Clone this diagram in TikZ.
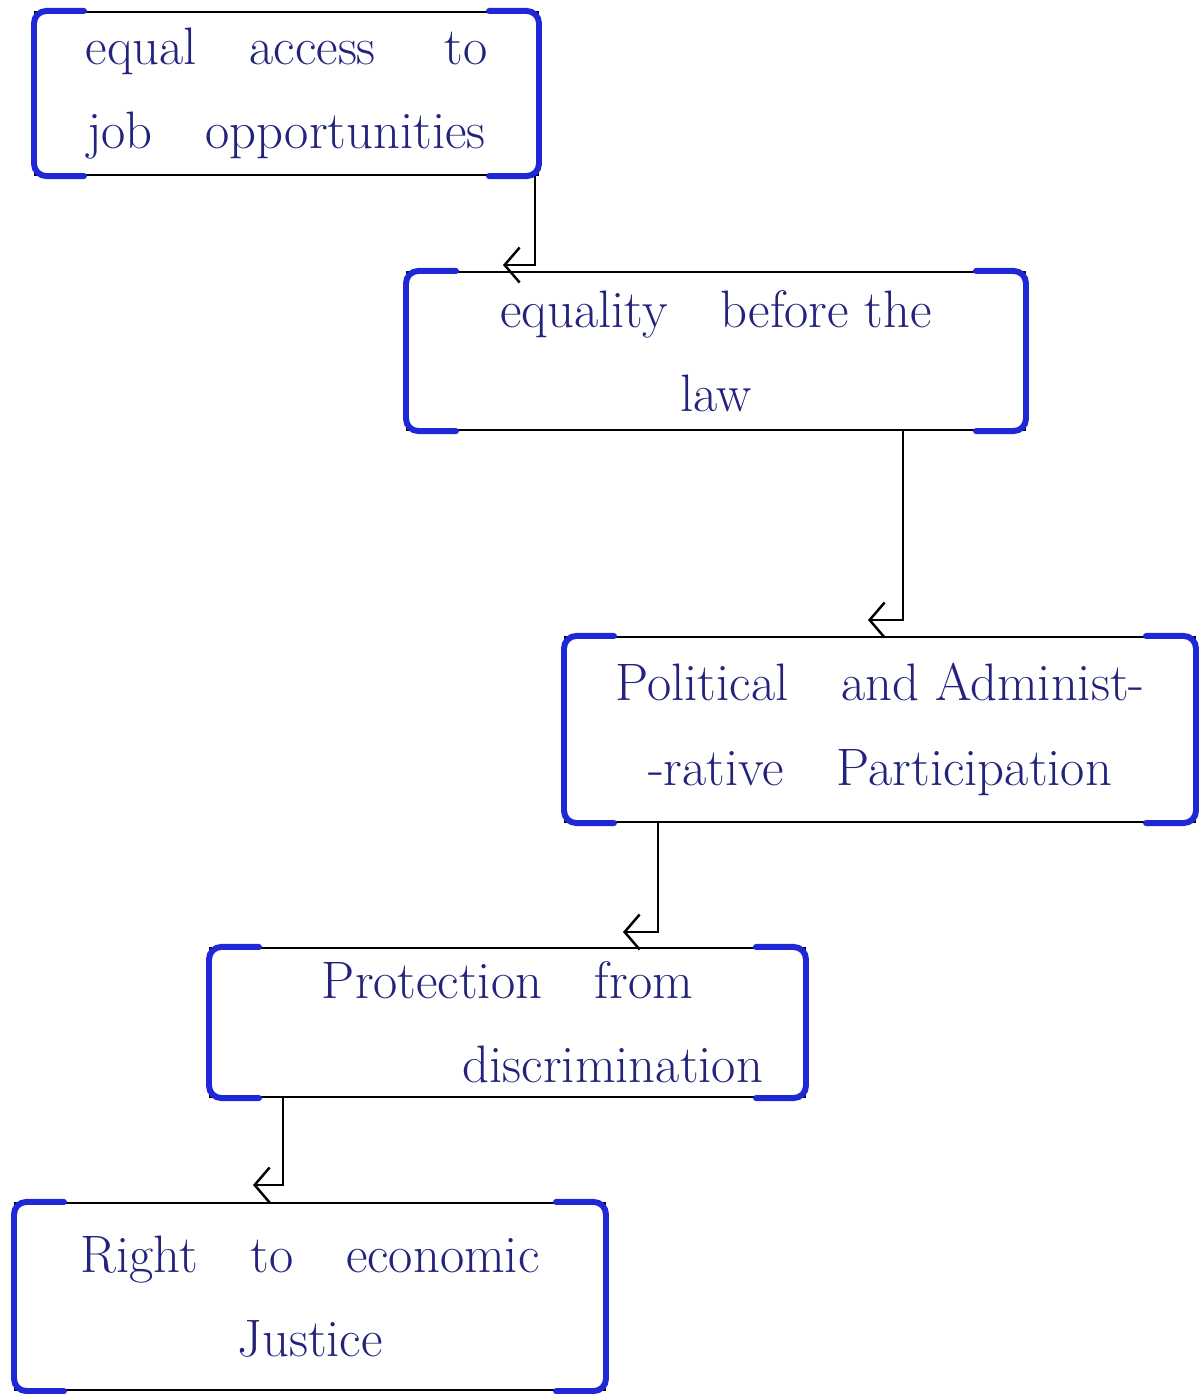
\documentclass[tikz,border=0pt]{standalone}
\usepackage{tikz}
\usepackage{xcolor}
\usetikzlibrary{arrows.meta, calc}
\definecolor{penblue}{RGB}{30,40,215}
\definecolor{inkblue}{RGB}{35,35,125}

\begin{document}
\begin{tikzpicture}[x=0.02cm, y=-0.02cm,
  box/.style={draw=black, line width=1.2pt, inner sep=0pt, align=center,
    text=inkblue, font=\fontsize{30}{48}\selectfont},
  brk/.style={draw=penblue, line width=3.4pt, rounded corners=7pt, line cap=round},
  arr/.style={draw=black, line width=1.4pt, -{Straight Barb[length=3mm,width=7mm]}}]
\useasboundingbox (0,0) rectangle (1198,1394);

% Boxes
\node[box, minimum width=10.06cm, minimum height=3.26cm] (access) at (286.5,93.5)
  {equal\quad access\quad\ to\\job\quad opportunities};
\node[box, minimum width=12.36cm, minimum height=3.16cm] (law) at (716,351)
  {equality\quad before the\\law};
\node[box, minimum width=12.6cm, minimum height=3.7cm] (participation) at (880,729.5)
  {Political\quad and Administ-\\-rative\quad Participation};
\node[box, minimum width=11.9cm, minimum height=2.98cm] (protection) at (507.5,1022.5)
  {Protection\quad from\\\qquad\qquad discrimination};
\node[box, minimum width=11.8cm, minimum height=3.74cm] (justice) at (310,1296.5)
  {Right\quad to\quad economic\\Justice};

% Blue brackets on the sides
\foreach \n in {access,law,participation,protection,justice} {
  \draw[brk] ([xshift=1cm]\n.north west) -- (\n.north west) -- (\n.south west) -- ([xshift=1cm]\n.south west);
  \draw[brk] ([xshift=-1cm]\n.north east) -- (\n.north east) -- (\n.south east) -- ([xshift=-1cm]\n.south east);
}

% Connectors
\coordinate (hook1) at (535,265);
\coordinate (hook2) at (903,620);
\coordinate (hook3) at (658,932);
\coordinate (hook4) at (283,1185);
\draw[arr] (hook1 |- access.south) -- (hook1) -- ++(-32,0);
\draw[arr] (hook2 |- law.south) -- (hook2) -- ++(-35,0);
\draw[arr] (hook3 |- participation.south) -- (hook3) -- ++(-35,0);
\draw[arr] (hook4 |- protection.south) -- (hook4) -- ++(-30,0);
\end{tikzpicture}
\end{document}
